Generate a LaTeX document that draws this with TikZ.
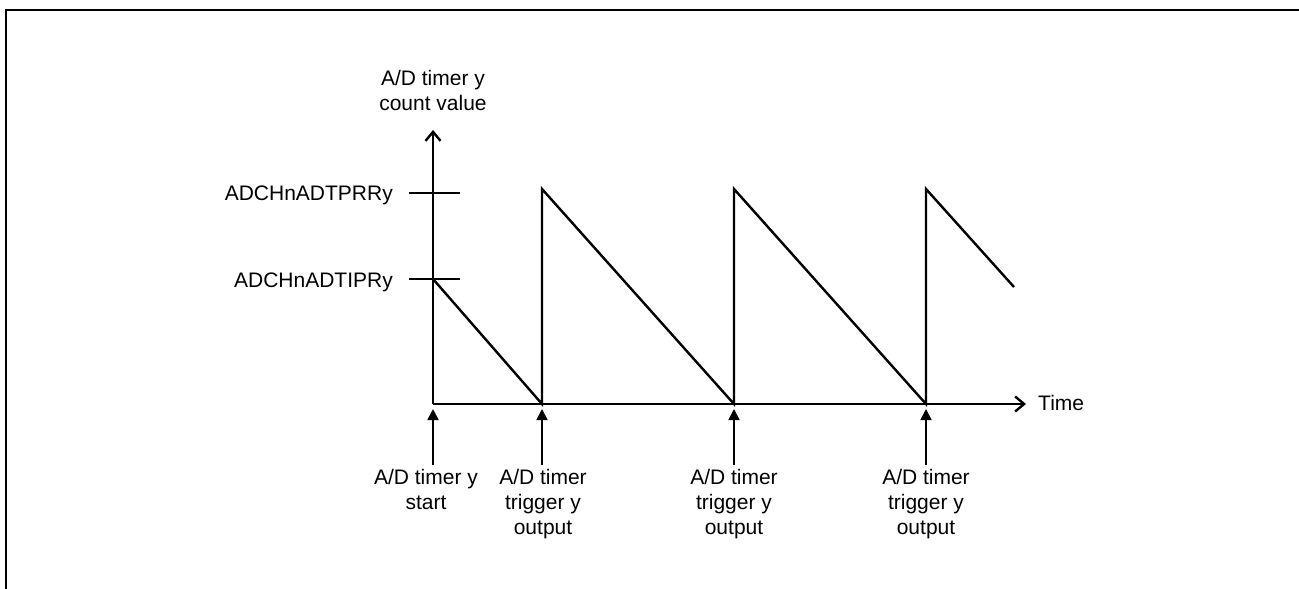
\documentclass[tikz,border=0pt]{standalone}
\usepackage{fontspec}
\setmainfont{Liberation Sans}
\usetikzlibrary{arrows.meta}
\begin{document}
\begin{tikzpicture}[x=1pt,y=-1pt,
  lbl/.style={font=\fontsize{21}{25}\selectfont, inner sep=0pt, align=center},
  axis/.style={line width=2.4pt, -{Straight Barb[length=9pt,width=15pt]}},
  wave/.style={line width=2.4pt, line join=miter},
  tickmark/.style={line width=2.2pt},
  evt/.style={line width=1.8pt, -{Triangle[length=11pt,width=11pt]}},
  frame/.style={line width=2.6pt, line join=miter}]
\useasboundingbox (0,0) rectangle (1299,589);
% open frame (top and left only)
\coordinate (fbl) at (6,589);
\coordinate (ftl) at (6,10);
\coordinate (ftr) at (1299,10);
\draw[frame] (fbl) -- (ftl) -- (ftr);
% axes
\coordinate (O) at (433,404);
\coordinate (ytip) at (433,130);
\coordinate (xtip) at (1026,404);
\draw[axis] (O) -- (ytip);
\draw[axis] (O) -- (xtip);
\node[lbl, anchor=base] (ylab) at (433,110) {A/D timer y\\count value};
\node[lbl, anchor=base west] (xlab) at (1038,410) {Time};
% ticks
\coordinate (prrL) at (409,193);
\coordinate (prrR) at (460,193);
\coordinate (iprL) at (409,279);
\coordinate (iprR) at (460,279);
\draw[tickmark] (prrL) -- (prrR);
\draw[tickmark] (iprL) -- (iprR);
\node[lbl, anchor=base east] (prr) at (393,200) {ADCHnADTPRRy};
\node[lbl, anchor=base east] (ipr) at (393,287) {ADCHnADTIPRy};
% sawtooth
\coordinate (s0) at (433,279);
\coordinate (z1) at (542,404);
\coordinate (p1) at (542,189);
\coordinate (z2) at (734,404);
\coordinate (p2) at (734,189);
\coordinate (z3) at (926,404);
\coordinate (p3) at (926,189);
\coordinate (s4) at (1014,287);
\draw[wave] (s0) -- (z1) -- (p1) -- (z2) -- (p2) -- (z3) -- (p3) -- (s4);
% event arrows
\coordinate (b0) at (433,465); \coordinate (t0) at (433,409);
\coordinate (b1) at (542,465); \coordinate (t1) at (542,409);
\coordinate (b2) at (734,465); \coordinate (t2) at (734,409);
\coordinate (b3) at (926,465); \coordinate (t3) at (926,409);
\draw[evt] (b0) -- (t0);
\draw[evt] (b1) -- (t1);
\draw[evt] (b2) -- (t2);
\draw[evt] (b3) -- (t3);
\node[lbl, anchor=base] (e0) at (426,509) {A/D timer y\\start};
\node[lbl, anchor=base] (e1) at (543,534) {A/D timer\\trigger y\\output};
\node[lbl, anchor=base] (e2) at (734,534) {A/D timer\\trigger y\\output};
\node[lbl, anchor=base] (e3) at (926,534) {A/D timer\\trigger y\\output};
\end{tikzpicture}
\end{document}
